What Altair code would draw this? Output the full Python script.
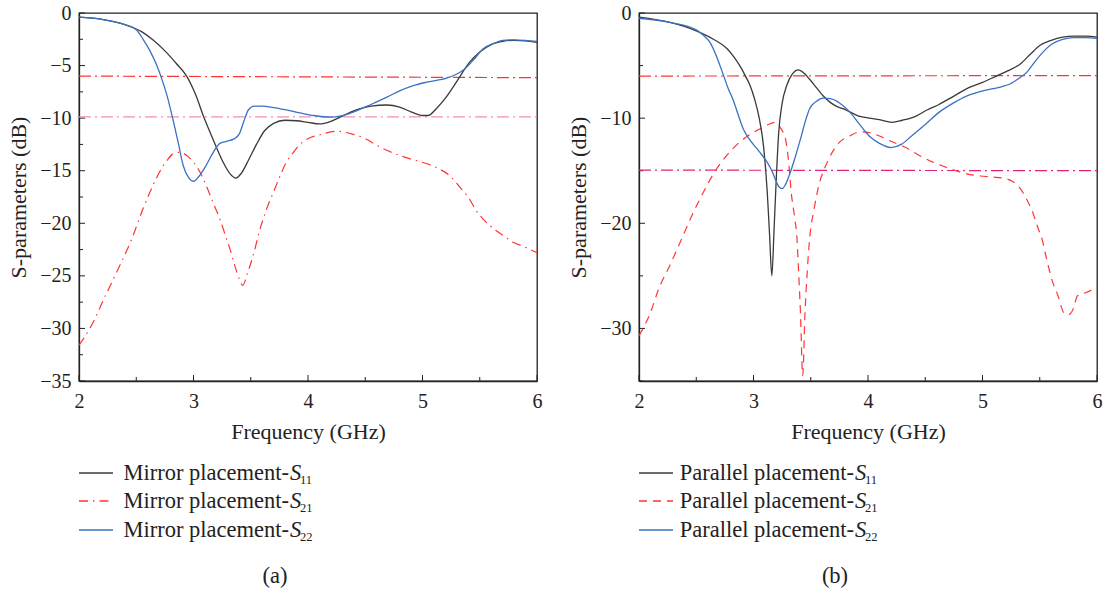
import altair as alt
import pandas as pd

FONT = "Liberation Serif"
INK = "#222222"

# ---------------- (a) Mirror placement ----------------
mir_s11_f = [2.0, 2.2, 2.4, 2.55, 2.65, 2.75, 2.85, 2.94, 3.02, 3.09, 3.17, 3.25, 3.32, 3.37,
             3.42, 3.48, 3.55, 3.62, 3.70, 3.80, 3.90, 4.0, 4.1, 4.2, 4.3, 4.4, 4.55, 4.69,
             4.8, 4.9, 5.0, 5.05, 5.12, 5.2, 5.3, 5.41, 5.5, 5.6, 5.7, 5.8, 5.9, 6.0]
mir_s11_db = [-0.4, -0.6, -1.1, -1.8, -2.6, -3.6, -4.8, -6.0, -7.8, -9.9, -12.0, -14.0, -15.3, -15.7,
              -15.2, -14.0, -12.5, -11.2, -10.5, -10.2, -10.25, -10.4, -10.55, -10.3, -9.8, -9.3, -8.85, -8.75,
              -8.95, -9.4, -9.75, -9.75, -9.1, -8.1, -6.5, -4.7, -3.7, -3.0, -2.7, -2.6, -2.65, -2.8]

mir_s21_f = [2.0, 2.1, 2.23, 2.34, 2.46, 2.56, 2.65, 2.71, 2.77, 2.82, 2.87, 2.92, 3.0, 3.06,
             3.11, 3.17, 3.23, 3.28, 3.32, 3.36, 3.40, 3.43, 3.47, 3.52, 3.58, 3.64, 3.70, 3.76,
             3.81, 3.87, 3.93, 3.99, 4.1, 4.25, 4.38, 4.51, 4.62, 4.74, 4.87, 5.0, 5.12, 5.24,
             5.33, 5.41, 5.47, 5.53, 5.62, 5.71, 5.79, 5.88, 6.0]
mir_s21_db = [-31.6, -29.9, -26.9, -24.4, -21.5, -18.6, -16.3, -15.0, -14.0, -13.4, -13.25, -13.4, -14.2, -15.2,
              -16.4, -18.0, -19.6, -21.2, -22.5, -24.0, -25.3, -25.9, -24.8, -23.1, -20.6, -18.6, -17.0, -15.4,
              -14.2, -13.3, -12.5, -12.0, -11.6, -11.25, -11.5, -12.0, -12.7, -13.3, -13.8, -14.2, -14.7, -15.5,
              -16.6, -17.7, -18.8, -19.6, -20.5, -21.2, -21.8, -22.2, -22.8]

mir_s22_f = [2.0, 2.2, 2.4, 2.5, 2.56, 2.62, 2.68, 2.73, 2.77, 2.82, 2.87, 2.91, 2.96, 3.0,
             3.05, 3.11, 3.17, 3.23, 3.29, 3.35, 3.40, 3.44, 3.48, 3.53, 3.6, 3.7, 3.8, 3.93,
             4.05, 4.19, 4.3, 4.4, 4.55, 4.69, 4.8, 4.92, 5.05, 5.21, 5.3, 5.36, 5.45, 5.53,
             5.62, 5.7, 5.8, 5.9, 6.0]
mir_s22_db = [-0.4, -0.6, -1.1, -1.6, -2.5, -3.6, -5.0, -6.5, -7.9, -10.1, -12.5, -14.5, -15.7, -16.0,
              -15.5, -14.5, -13.3, -12.4, -12.2, -12.0, -11.5, -10.3, -9.2, -8.85, -8.85, -9.0, -9.2, -9.5,
              -9.75, -9.9, -9.75, -9.4, -8.7, -8.0, -7.4, -6.9, -6.55, -6.2, -5.8, -5.4, -4.4, -3.4,
              -2.9, -2.6, -2.55, -2.6, -2.7]

mir_ref_f = [2.0, 6.0]
mir_ref6_db = [-6.0, -6.15]
mir_ref10_db = [-9.87, -9.87]

# ---------------- (b) Parallel placement ----------------
par_s11_f = [2.0, 2.27, 2.5, 2.65, 2.77, 2.83, 2.88, 2.93, 2.97, 3.01, 3.05, 3.09, 3.12, 3.14,
             3.16, 3.18, 3.2, 3.22, 3.25, 3.29, 3.34, 3.39, 3.44, 3.49, 3.55, 3.61, 3.67, 3.73,
             3.78, 3.84, 3.92, 4.01, 4.1, 4.21, 4.3, 4.42, 4.52, 4.62, 4.75, 4.88, 5.0, 5.12,
             5.22, 5.33, 5.42, 5.5, 5.6, 5.7, 5.8, 5.9, 6.0]
par_s11_db = [-0.4, -0.9, -1.7, -2.5, -3.4, -4.2, -5.0, -6.0, -6.9, -8.2, -10.0, -12.9, -17.0, -21.0,
              -25.0, -20.5, -15.5, -11.4, -8.6, -6.9, -5.8, -5.4, -5.7, -6.3, -7.1, -7.9, -8.5, -8.9,
              -9.1, -9.4, -9.8, -10.0, -10.15, -10.4, -10.2, -9.8, -9.2, -8.7, -7.9, -7.1, -6.6, -6.0,
              -5.5, -4.85, -3.9, -3.1, -2.6, -2.3, -2.2, -2.2, -2.3]

par_s21_f = [2.0, 2.1, 2.17, 2.27, 2.36, 2.46, 2.56, 2.65, 2.74, 2.82, 2.91, 2.99, 3.06, 3.13,
             3.19, 3.24, 3.28, 3.31, 3.33, 3.36, 3.38, 3.39, 3.41, 3.43, 3.45, 3.47, 3.49, 3.53,
             3.57, 3.62, 3.67, 3.75, 3.84, 3.93, 4.02, 4.1, 4.2, 4.33, 4.44, 4.54, 4.64, 4.74,
             4.86, 4.98, 5.08, 5.18, 5.26, 5.33, 5.39, 5.44, 5.48, 5.52, 5.56, 5.61, 5.66, 5.71,
             5.75, 5.79, 5.83, 5.9, 6.0]
par_s21_db = [-30.7, -28.5, -26.3, -24.0, -21.8, -19.3, -17.1, -15.3, -13.9, -12.9, -12.0, -11.4, -11.0, -10.6,
              -10.4, -11.0, -12.0, -14.5, -17.1, -19.5, -21.5, -23.7, -28.5, -34.5, -28.5, -24.5, -21.5, -18.6,
              -16.4, -14.8, -13.6, -12.3, -11.7, -11.3, -11.4, -11.7, -12.2, -12.8, -13.5, -14.05, -14.5, -14.9,
              -15.3, -15.5, -15.6, -15.7, -16.0, -16.7, -17.8, -19.0, -20.3, -21.5, -23.4, -25.5, -26.9, -28.5,
              -28.7, -28.2, -26.9, -26.6, -26.1]

par_s22_f = [2.0, 2.27, 2.5, 2.56, 2.62, 2.68, 2.74, 2.78, 2.82, 2.87, 2.91, 2.97, 3.03, 3.08,
             3.12, 3.16, 3.19, 3.22, 3.25, 3.28, 3.32, 3.37, 3.41, 3.45, 3.49, 3.55, 3.61, 3.67,
             3.73, 3.78, 3.84, 3.92, 4.01, 4.1, 4.2, 4.29, 4.38, 4.5, 4.62, 4.74, 4.86, 4.97,
             5.09, 5.17, 5.24, 5.32, 5.39, 5.46, 5.53, 5.6, 5.7, 5.8, 5.9, 6.0]
par_s22_db = [-0.5, -0.9, -1.6, -2.1, -2.8, -4.2, -6.0, -7.2, -8.2, -9.8, -11.0, -12.1, -12.9, -13.6,
              -14.2, -15.0, -15.8, -16.5, -16.7, -16.3, -15.2, -13.5, -12.0, -10.4, -9.1, -8.4, -8.1, -8.15,
              -8.4, -8.8, -9.4, -10.5, -11.7, -12.4, -12.8, -12.5, -11.7, -10.6, -9.45, -8.6, -7.9, -7.5,
              -7.2, -7.0, -6.75, -6.2, -5.6, -4.6, -3.7, -3.0, -2.5, -2.35, -2.35, -2.4]

par_ref_f = [2.0, 6.0]
par_ref6_db = [-6.0, -5.95]
par_ref15_db = [-14.94, -15.0]

# Axis ticks
x_major = [2, 3, 4, 5, 6]
x_minor = [2.5, 3.5, 4.5, 5.5]
a_y_major = [0, -5, -10, -15, -20, -25, -30, -35]
a_y_minor = [-2.5, -7.5, -12.5, -17.5, -22.5, -27.5, -32.5]
b_y_major = [0, -10, -20, -30]
b_y_minor = [-5, -15, -25, -35]

W, H = 458, 368
BLACK = "#3a3a3a"
RED = "#ff3535"
BLUE = "#3a72c2"
PINK = "#f48cc0"
MAGENTA = "#e8207a"
DASHDOT_REF = [12, 4, 2, 4]
DASHDOT_S21 = [9, 5, 1.5, 5]
DASHED = [8, 6]
LEG_FS = 22.5

xs = alt.Scale(domain=[2, 6], nice=False, zero=False)
ys = alt.Scale(domain=[-35, 0], nice=False, zero=False)

AXIS_COMMON = dict(format="d", ticks=False, grid=False, labelFlush=False, labelOverlap=False,
                   labelFont=FONT, titleFont=FONT, labelFontSize=20, titleFontSize=22,
                   labelColor=INK, titleColor=INK, titleFontWeight="normal",
                   domainColor=INK, domainWidth=1.3)


def X(field):
    return alt.X(field, scale=xs, title="Frequency (GHz)",
                 axis=alt.Axis(values=x_major, labelPadding=10, titlePadding=10, **AXIS_COMMON))


def Y(field, y_labels):
    return alt.Y(field, scale=ys, title="S-parameters (dB)",
                 axis=alt.Axis(values=y_labels, labelPadding=8, titlePadding=9, **AXIS_COMMON))


def series_layer(f, db, color, y_labels, dash=None, width=1.3):
    df = pd.DataFrame({"f": f, "db": db})
    kw = dict(color=color, strokeWidth=width, interpolate="monotone", clip=True)
    if dash:
        kw["strokeDash"] = dash
    return alt.Chart(df).mark_line(**kw).encode(x=X("f:Q"), y=Y("db:Q", y_labels))


def tick_layers(y_major, y_minor):
    one = lambda vals: pd.DataFrame({"v": vals})
    return [
        alt.Chart(one(y_major)).mark_rule(color=INK, strokeWidth=1).encode(
            y=Y("v:Q", y_major), x=alt.value(0), x2=alt.value(6)),
        alt.Chart(one(y_minor)).mark_rule(color=INK, strokeWidth=1).encode(
            y=Y("v:Q", y_major), x=alt.value(0), x2=alt.value(4)),
        alt.Chart(one(x_major)).mark_rule(color=INK, strokeWidth=1).encode(
            x=X("v:Q"), y=alt.value(H), y2=alt.value(H - 6)),
        alt.Chart(one(x_minor)).mark_rule(color=INK, strokeWidth=1).encode(
            x=X("v:Q"), y=alt.value(H), y2=alt.value(H - 4)),
    ]


def legend_layers(prefix, entries, caption, anchor):
    single = alt.Data(values=[{"k": 0}])
    layers = []
    rows = [460, 488, 517]
    for (sub, color, dash), ry in zip(entries, rows):
        kw = dict(color=color, strokeWidth=1.3)
        if dash:
            kw["strokeDash"] = dash
        layers.append(alt.Chart(single).mark_rule(**kw).encode(
            x=alt.value(0), x2=alt.value(34), y=alt.value(ry)))
        layers.append(alt.Chart(single).mark_text(
            text=prefix, align="right", baseline="alphabetic", font=FONT, fontSize=LEG_FS, color=INK
        ).encode(x=alt.value(anchor), y=alt.value(ry + 7)))
        layers.append(alt.Chart(single).mark_text(
            text="S", align="left", baseline="alphabetic", font=FONT, fontSize=LEG_FS,
            fontStyle="italic", color=INK
        ).encode(x=alt.value(anchor + 1), y=alt.value(ry + 7)))
        layers.append(alt.Chart(single).mark_text(
            text=sub, align="left", baseline="alphabetic", font=FONT, fontSize=12.5, color=INK
        ).encode(x=alt.value(anchor + 11), y=alt.value(ry + 11)))
    layers.append(alt.Chart(single).mark_text(
        text=caption, align="center", baseline="middle", font=FONT, fontSize=LEG_FS, color=INK
    ).encode(x=alt.value(196), y=alt.value(563)))
    return layers


def panel(ym, ymin, refs, s21, s11, s22, s21_dash, prefix, caption, anchor):
    layers = list(tick_layers(ym, ymin))
    for f, db, color in refs:
        layers.append(series_layer(f, db, color, ym, DASHDOT_REF, 1.2))
    layers.append(series_layer(s21[0], s21[1], RED, ym, s21_dash, 1.2))
    layers.append(series_layer(s11[0], s11[1], BLACK, ym))
    layers.append(series_layer(s22[0], s22[1], BLUE, ym))
    layers += legend_layers(prefix, [("11", BLACK, None), ("21", RED, s21_dash), ("22", BLUE, None)],
                            caption, anchor)
    return alt.layer(*layers).properties(width=W, height=H)


panel_a = panel(a_y_major, a_y_minor,
                [(mir_ref_f, mir_ref6_db, RED), (mir_ref_f, mir_ref10_db, PINK)],
                (mir_s21_f, mir_s21_db), (mir_s11_f, mir_s11_db), (mir_s22_f, mir_s22_db),
                DASHDOT_S21, "Mirror placement-", "(a)", 210)

panel_b = panel(b_y_major, b_y_minor,
                [(par_ref_f, par_ref6_db, RED), (par_ref_f, par_ref15_db, MAGENTA)],
                (par_s21_f, par_s21_db), (par_s11_f, par_s11_db), (par_s22_f, par_s22_db),
                DASHED, "Parallel placement-", "(b)", 215)

chart = alt.hconcat(panel_a, panel_b, spacing=24).properties(
    padding={"left": 7, "top": 2, "right": 0, "bottom": 0},
    background="white",
).configure(
    font=FONT
).configure_axis(
    labelFont=FONT, titleFont=FONT
).configure_view(
    stroke=INK, strokeWidth=1.3
)

chart.save("out.html", embed_options={"renderer": "svg", "actions": False})
